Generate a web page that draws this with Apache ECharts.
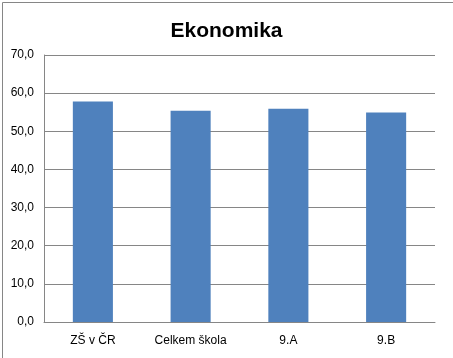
<!DOCTYPE html>
<html><head><meta charset="utf-8">
<script src="https://cdn.jsdelivr.net/npm/echarts@6/dist/echarts.min.js"></script>
<style>html,body{margin:0;padding:0;background:#fff}#c{width:453px;height:358px}</style>
</head><body><div id="c"></div>
<script>
const categories = ['ZŠ v ČR', 'Celkem škola', '9.A', '9.B'];
const values = [57.8, 55.4, 55.9, 54.9];
const chartTitle = 'Ekonomika';

const chart = echarts.init(document.getElementById('c'), null, {renderer: 'canvas'});
chart.setOption({
  animation: false,
  backgroundColor: '#fff',
  title: {
    text: chartTitle, left: 'center', top: 16,
    textStyle: {fontFamily: 'Liberation Sans', fontWeight: 'bold', fontSize: 21, color: '#000'}
  },
  graphic: [{
    type: 'rect', left: 0, top: 0, silent: true,
    shape: {x: 0.5, y: 0.5, width: 451, height: 356},
    style: {fill: 'none', stroke: '#868686', lineWidth: 1}
  }],
  grid: {left: 44, right: 18, top: 55, bottom: 36, containLabel: false},
  xAxis: {
    type: 'category', data: categories,
    axisLine: {lineStyle: {color: '#868686'}},
    axisTick: {show: false},
    axisLabel: {color: '#000', fontFamily: 'Liberation Sans', fontSize: 12, margin: 13}
  },
  yAxis: {
    type: 'value', min: 0, max: 70, interval: 10,
    axisLine: {show: true, lineStyle: {color: '#868686'}},
    axisTick: {show: false},
    splitLine: {lineStyle: {color: '#868686'}},
    axisLabel: {color: '#000', fontFamily: 'Liberation Sans', fontSize: 12, margin: 10,
      formatter: v => v.toFixed(1).replace('.', ',')}
  },
  series: [{
    type: 'bar', data: values, barWidth: '41%',
    itemStyle: {color: '#4f81bd'}
  }]
});
</script></body></html>
